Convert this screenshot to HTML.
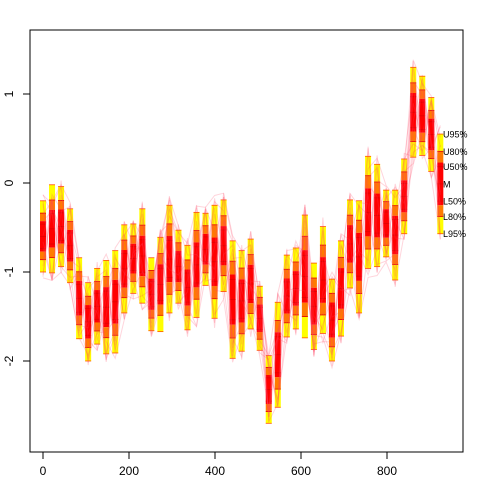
<!DOCTYPE html>
<html><head><meta charset="utf-8"><style>
body{margin:0;background:#fff;}
svg{display:block;font-family:"Liberation Sans",sans-serif;}
</style></head><body>
<svg id="chart" width="480" height="480" viewBox="0 0 480 480">
<rect width="480" height="480" fill="#fff"/>
<g id="fans"></g>
<g id="spag"></g>
<g id="labels"></g>
<rect x="30" y="30" width="433" height="422" fill="none" stroke="#000" stroke-width="1"/>
<g id="axes"></g>
</svg>
<script>
const xVals = [0,21,42,63,84,105,126,147,168,189,210,231,252,273,294,315,336,357,378,399,420,441,462,483,504,525,546,567,588,609,630,651,672,693,714,735,756,777,798,819,840,861,882,903,924];
const upper95 = [-0.20,-0.02,-0.04,-0.29,-0.84,-1.12,-0.96,-0.87,-0.76,-0.47,-0.46,-0.29,-0.84,-0.61,-0.25,-0.53,-0.70,-0.33,-0.34,-0.25,-0.19,-0.65,-0.76,-0.63,-1.16,-1.94,-1.34,-0.81,-0.73,-0.36,-0.90,-0.49,-1.08,-0.65,-0.19,-0.20,0.30,0.21,-0.08,-0.08,0.27,1.30,1.20,0.96,0.55];
const lower95 = [-1.00,-1.01,-0.94,-1.12,-1.75,-2.00,-1.81,-1.92,-1.91,-1.46,-1.24,-1.35,-1.66,-1.67,-1.46,-1.35,-1.65,-1.51,-1.15,-1.52,-1.22,-1.97,-1.89,-1.64,-1.88,-2.70,-2.52,-1.73,-1.64,-1.74,-1.87,-1.69,-2.00,-1.72,-1.18,-1.46,-0.96,-0.94,-0.83,-1.09,-0.57,0.29,0.31,0.13,-0.57];
const xTicks = [0,200,400,600,800];
const yTicks = [-2,-1,0,1];
const qLabels = ["U95%","U80%","U50%","M","L50%","L80%","L95%"];
const qz = [1.96,1.2816,0.6745,0,-0.6745,-1.2816,-1.96];

const NS="http://www.w3.org/2000/svg";
const X = v => 43 + v*0.43;
const Y = v => 183 - v*89;
function mk(tag, attrs, parent){const e=document.createElementNS(NS,tag);for(const k in attrs)e.setAttribute(k,attrs[k]);parent.appendChild(e);return e;}
const fans=document.getElementById('fans'), spag=document.getElementById('spag'), axes=document.getElementById('axes'), labels=document.getElementById('labels');

function q(i,z){const m=(upper95[i]+lower95[i])/2, sd=(upper95[i]-lower95[i])/3.92; return m+z*sd;}

const bands=[[1.96,1.2816,'#ffff00'],[1.2816,0.84,'#ff7b00'],[0.84,-0.84,'#ff0000'],[-0.84,-1.2816,'#ff7b00'],[-1.2816,-1.96,'#ffff00']];
xVals.forEach((xv,i)=>{
  const cx=X(xv);
  const g=mk('g',{},fans);
  
  
  bands.forEach(b=>{
    const t=Y(q(i,b[0])), bt=Y(q(i,b[1]));
    mk('rect',{x:cx-3,y:t,width:6,height:bt-t,fill:b[2]},g);
  });
  qz.forEach(z=>{const y=Y(q(i,z)); mk('line',{x1:cx-3,x2:cx+3,y1:y,y2:y,stroke:(Math.abs(z)>1.5?'#ff5000':'#e00000'),'stroke-width':'0.8'},g);});
});

// decorative simulation paths through the fan quantiles
for(let k=0;k<14;k++){
  let d='';
  xVals.forEach((xv,i)=>{
    const z=2.3*Math.cos(i*(1.3+k*0.37)+k*1.7);
    d+=(i?'L':'M')+X(xv).toFixed(1)+' '+Y(q(i,z)).toFixed(1);
  });
  const p=mk('path',{d:d,fill:'none',stroke:'#ff4060','stroke-opacity':'0.22','stroke-width':'1'},spag);
  
  
}

const last=xVals.length-1;
qLabels.forEach((t,k)=>{
  const e=mk('text',{x:443,y:Y(q(last,qz[k]))+3.5,'font-size':'9',fill:'#000'},labels);
  e.textContent=t;
  
  
});

mk('line',{x1:X(xTicks[0]),x2:X(xTicks[xTicks.length-1]),y1:452,y2:452,stroke:'#000'},axes);
xTicks.forEach(t=>{
  mk('line',{x1:X(t),x2:X(t),y1:452,y2:459,stroke:'#000'},axes);
  const e=mk('text',{x:X(t),y:475,'font-size':'12','text-anchor':'middle'},axes);
  e.textContent=t;
  
  
});
mk('line',{x1:30,x2:30,y1:Y(yTicks[0]),y2:Y(yTicks[yTicks.length-1]),stroke:'#000'},axes);
yTicks.forEach(t=>{
  mk('line',{x1:23,x2:30,y1:Y(t),y2:Y(t),stroke:'#000'},axes);
  const e=mk('text',{x:13,y:Y(t),'font-size':'12','text-anchor':'middle',transform:`rotate(-90 13 ${Y(t)})`},axes);
  e.textContent=t;
  
  
});
</script>
</body></html>
